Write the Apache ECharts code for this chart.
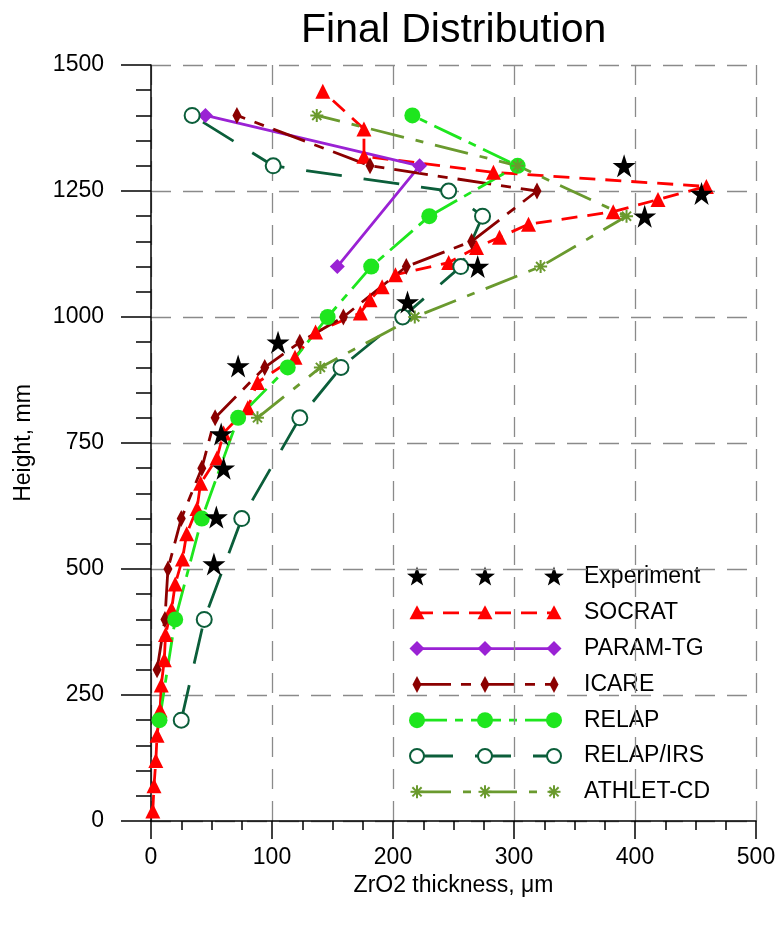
<!DOCTYPE html>
<html>
<head>
<meta charset="utf-8">
<script src="https://cdn.jsdelivr.net/npm/echarts@6/dist/echarts.min.js"></script>
<style>
  html, body { margin: 0; padding: 0; background: #fff; }
  #chart { width: 781px; height: 928px; }
</style>
</head>
<body>
<div id="chart"></div>
<script>
// Each point: [ZrO2 thickness (µm), height (mm)]
const experiment = [[52,510],[54,603],[60,700],[58,768],[72,903],[105,950],[212,1030],[270,1100],[408,1200],[455,1245],[391,1300]];
const socrat = [[1.5,20],[2.5,70],[4,120],[5,170],[7.5,220],[8.5,270],[11,320],[12,370],[17,420],[20,470],[26,520],[29.5,570],[38,620],[41,670],[54.5,720],[60,770],[80,820],[88,870],[119,920],[136,970],[173,1008],[181,1034],[191,1060],[202,1084],[246,1108],[269,1138],[288,1158],[312,1184],[382,1209],[419,1233],[459,1259],[283,1287],[176,1319],[176,1373],[142,1448]];
const paramTg = [[154,1100],[222,1300],[45,1400]];
const icare = [[5,300],[11.5,400],[14,500],[25,600],[42,700],[53,800],[94,900],[123,950],[159,1000],[211,1100],[265,1150],[319,1250],[181,1300],[71,1400]];
const relap = [[7,200],[20,400],[42,600],[72,800],[113,900],[146,1000],[182,1100],[230,1200],[303,1300],[216,1400]];
const relapIrs = [[25,200],[44,400],[75,600],[123,800],[157,900],[208,1000],[256,1100],[274,1200],[246,1250],[101,1300],[34,1400]];
const athletCd = [[88,800],[140,900],[218,1000],[322,1100],[393,1200],[303,1300],[137,1400]];

// Axis tick values
const xTickValues = [0, 100, 200, 300, 400, 500];
const yTickValues = [0, 250, 500, 750, 1000, 1250, 1500];

const FONT = 'Liberation Sans';
const STAR_PATH = 'path://M50,0L61.8,35.3L99,35.3L69,57.1L80.4,92.7L50,70.9L19.6,92.7L31,57.1L1,35.3L38.2,35.3Z';
const ASTERISK_PATH = 'path://M0,5L10,5M5,0L5,10M1.5,1.5L8.5,8.5M8.5,1.5L1.5,8.5';

const C = {
  exp: '#000000',
  socrat: '#ff0000',
  param: '#9a22d4',
  icare: '#8b0000',
  relap: '#1ee61e',
  irs: '#0b5e3a',
  athlet: '#6a9a2e'
};

const seriesDefs = [
  { name: 'SOCRAT', data: socrat, color: C.socrat, dash: [16, 10], symbol: 'triangle', size: 15, kind: 'triangle' },
  { name: 'PARAM-TG', data: paramTg, color: C.param, dash: 'solid', symbol: 'diamond', size: 15, kind: 'diamond' },
  { name: 'ICARE', data: icare, color: C.icare, dash: [34, 10, 10, 10], symbol: 'diamond', size: [9, 17], kind: 'thinDiamond' },
  { name: 'RELAP', data: relap, color: C.relap, dash: [30, 8, 8, 8], symbol: 'circle', size: 16, kind: 'circle' },
  { name: 'RELAP/IRS', data: relapIrs, color: C.irs, dash: [36, 22], symbol: 'emptyCircle', size: 15, kind: 'emptyCircle' },
  { name: 'ATHLET-CD', data: athletCd, color: C.athlet, dash: [34, 12, 8, 12], symbol: ASTERISK_PATH, size: 13, kind: 'asterisk' }
];

const series = seriesDefs.map(function (d) {
  return {
    name: d.name,
    type: 'line',
    data: d.data,
    symbol: d.symbol,
    symbolSize: d.size,
    showAllSymbol: true,
    silent: true,
    z: 3,
    lineStyle: { color: d.color, width: 2.8, type: d.dash },
    itemStyle: d.kind === 'asterisk'
      ? { color: d.color, borderColor: d.color, borderWidth: 2, opacity: 1 }
      : (d.kind === 'emptyCircle' ? { color: d.color, borderWidth: 2, opacity: 1 } : { color: d.color, opacity: 1 })
  };
});

series.push({
  name: 'Experiment',
  type: 'scatter',
  data: experiment,
  symbol: STAR_PATH,
  symbolSize: 23,
  silent: true,
  z: 5,
  itemStyle: { color: C.exp, opacity: 1 }
});

// ---- legend drawn as graphic elements (three markers per sample) ----
function markerEls(kind, cx, cy, color) {
  if (kind === 'star') {
    const pts = [];
    for (let i = 0; i < 10; i++) {
      const r = i % 2 === 0 ? 10.5 : 4.2;
      const a = -Math.PI / 2 + i * Math.PI / 5;
      pts.push([cx + r * Math.cos(a), cy + r * Math.sin(a)]);
    }
    return [{ type: 'polygon', shape: { points: pts }, style: { fill: color } }];
  }
  if (kind === 'triangle') {
    return [{ type: 'polygon', shape: { points: [[cx, cy - 7.5], [cx + 7.5, cy + 6.5], [cx - 7.5, cy + 6.5]] }, style: { fill: color } }];
  }
  if (kind === 'diamond') {
    return [{ type: 'polygon', shape: { points: [[cx, cy - 7.5], [cx + 7.5, cy], [cx, cy + 7.5], [cx - 7.5, cy]] }, style: { fill: color } }];
  }
  if (kind === 'thinDiamond') {
    return [{ type: 'polygon', shape: { points: [[cx, cy - 8.5], [cx + 4.5, cy], [cx, cy + 8.5], [cx - 4.5, cy]] }, style: { fill: color } }];
  }
  if (kind === 'circle') {
    return [{ type: 'circle', shape: { cx: cx, cy: cy, r: 8 }, style: { fill: color } }];
  }
  if (kind === 'emptyCircle') {
    return [{ type: 'circle', shape: { cx: cx, cy: cy, r: 7 }, style: { fill: '#fff', stroke: color, lineWidth: 2 } }];
  }
  if (kind === 'asterisk') {
    const s = 6.5, d = 4.6;
    return [
      [[cx - s, cy], [cx + s, cy]],
      [[cx, cy - s], [cx, cy + s]],
      [[cx - d, cy - d], [cx + d, cy + d]],
      [[cx + d, cy - d], [cx - d, cy + d]]
    ].map(function (p) {
      return { type: 'line', shape: { x1: p[0][0], y1: p[0][1], x2: p[1][0], y2: p[1][1] }, style: { stroke: color, lineWidth: 2 } };
    });
  }
  return [];
}

const legendItems = [{ name: 'Experiment', color: C.exp, dash: null, kind: 'star' }].concat(seriesDefs);
const legendEls = [];
const markerXs = [417, 485, 554];
legendItems.forEach(function (it, i) {
  const y = 577 + i * 35.8;
  if (it.dash) {
    legendEls.push({
      type: 'line',
      shape: { x1: 417, y1: y, x2: 554, y2: y },
      style: { stroke: it.color, lineWidth: 2.8, lineDash: it.dash === 'solid' ? null : it.dash }
    });
  }
  markerXs.forEach(function (mx) {
    markerEls(it.kind, mx, y, it.color).forEach(function (e) { legendEls.push(e); });
  });
  legendEls.push({
    type: 'text',
    style: { x: 584, y: y, text: it.name, fill: '#000', font: '23px "' + FONT + '"', textVerticalAlign: 'middle', textAlign: 'left' }
  });
});

const plainNumber = function (v) { return String(v); };

const chart = echarts.init(document.getElementById('chart'), null, { renderer: 'canvas' });
chart.setOption({
  animation: false,
  backgroundColor: '#fff',
  title: {
    text: 'Final Distribution',
    left: 296,
    top: 5,
    textStyle: { fontFamily: FONT, fontSize: 41, fontWeight: 'normal', color: '#000' }
  },
  grid: { left: 151, right: 25, top: 65, bottom: 107, containLabel: false },
  xAxis: {
    type: 'value',
    min: xTickValues[0],
    max: xTickValues[xTickValues.length - 1],
    interval: xTickValues[1] - xTickValues[0],
    name: 'ZrO2 thickness, μm',
    nameLocation: 'middle',
    nameGap: 52,
    nameTextStyle: { fontFamily: FONT, fontSize: 23, color: '#000' },
    axisLine: { show: true, onZero: false, lineStyle: { color: '#000', width: 1.5 } },
    axisTick: { show: true, length: 18, lineStyle: { color: '#000', width: 1.5 } },
    minorTick: { show: true, splitNumber: 4, length: 9, lineStyle: { color: '#000', width: 1.5 } },
    splitLine: { show: true, lineStyle: { color: '#8a8a8a', width: 1.3, type: [20, 12] } },
    axisLabel: { margin: 25, fontFamily: FONT, fontSize: 23, color: '#000', formatter: plainNumber }
  },
  yAxis: {
    type: 'value',
    min: yTickValues[0],
    max: yTickValues[yTickValues.length - 1],
    interval: yTickValues[1] - yTickValues[0],
    name: 'Height, mm',
    nameLocation: 'middle',
    nameGap: 116,
    nameTextStyle: { fontFamily: FONT, fontSize: 23, color: '#000' },
    axisLine: { show: true, onZero: false, lineStyle: { color: '#000', width: 1.5 } },
    axisTick: { show: true, length: 30, lineStyle: { color: '#000', width: 1.5 } },
    minorTick: { show: true, splitNumber: 5, length: 15, lineStyle: { color: '#000', width: 1.5 } },
    splitLine: { show: true, lineStyle: { color: '#8a8a8a', width: 1.3, type: [20, 12] } },
    axisLabel: { margin: 47, fontFamily: FONT, fontSize: 23, color: '#000', formatter: plainNumber }
  },
  series: series,
  graphic: [{ type: 'group', silent: true, z: 100, children: legendEls }]
});
</script>
</body>
</html>
